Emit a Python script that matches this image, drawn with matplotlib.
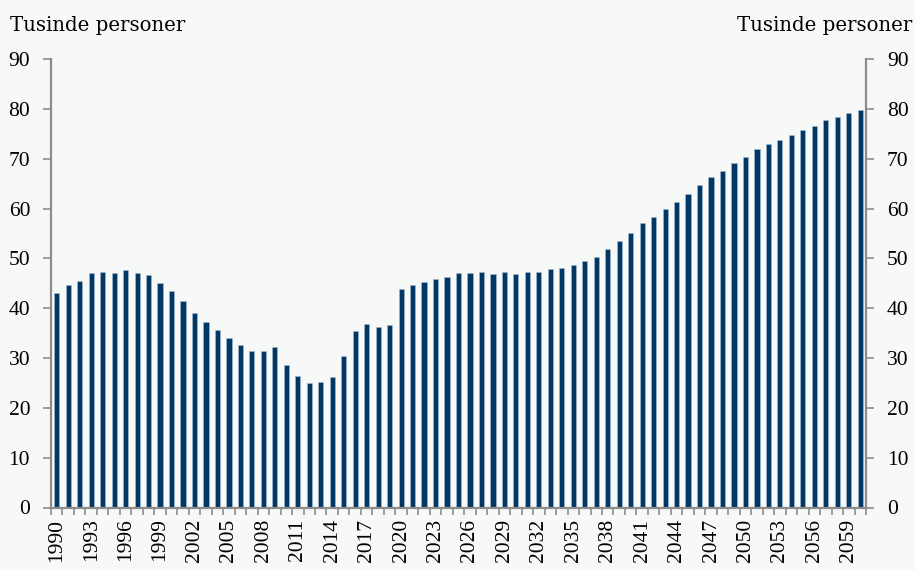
import matplotlib
matplotlib.use('Agg')
import matplotlib.pyplot as plt
import numpy as np

years = list(range(1990, 2061))
values = [
    43.1, 44.7, 45.4, 47.0, 47.2, 47.0, 47.6, 47.0, 46.6, 45.1,
    43.4, 41.4, 39.1, 37.2, 35.7, 34.0, 32.7, 31.5, 31.4, 32.3,
    28.7, 26.3, 24.9, 25.1, 26.2, 30.4, 35.4, 36.8, 36.2, 36.6,
    43.9, 44.7, 45.2, 45.8, 46.2, 47.0, 47.1, 47.3, 46.9, 47.3,
    46.9, 47.2, 47.3, 47.9, 48.1, 48.6, 49.5, 50.3, 51.9, 53.5,
    55.2, 57.2, 58.4, 59.9, 61.4, 63.0, 64.7, 66.4, 67.6, 69.2,
    70.4, 71.9, 73.0, 73.8, 74.7, 75.8, 76.6, 77.7, 78.3, 79.1,
    79.9,
]
yticks = [0, 10, 20, 30, 40, 50, 60, 70, 80, 90]
ylabel = "Tusinde personer"

bg = '#f7f9f9'
bar_color = '#003764'
axis_color = '#8c8c8c'
plt.rcParams['font.family'] = ['Liberation Serif', 'DejaVu Serif']

fig = plt.figure(figsize=(9.15, 5.7), dpi=100, facecolor=bg)
ax = fig.add_axes([51 / 915, 62.5 / 570, 815 / 915, 448.3 / 570])
ax.set_facecolor(bg)

x = np.arange(len(years))
ax.bar(x, values, width=0.45, color=bar_color, edgecolor='#a9bccd', linewidth=0.4)

ax.set_xlim(-0.5, len(years) - 0.5)
ax.set_ylim(0, 90)
ax.set_yticks(yticks)

# year labels every third bar, tick marks between bars
ax.set_xticks(x[::3])
ax.set_xticklabels([str(y) for y in years[::3]], rotation=90, fontsize=15.5)
ax.set_xticks(np.arange(-0.5, len(years)), minor=True)
ax.tick_params(axis='x', which='major', length=0, pad=8)
ax.tick_params(axis='x', which='minor', length=5, width=1.2, color=axis_color, direction='out')

ax.spines['top'].set_visible(False)
for s in ['left', 'right', 'bottom']:
    ax.spines[s].set_color(axis_color)
    ax.spines[s].set_linewidth(1.6)

ax.tick_params(axis='y', which='major', length=6, width=1.2, color=axis_color,
               labelsize=15.5, pad=9, left=True, right=True,
               labelleft=True, labelright=True)

fig.text(10 / 915, 1 - 31 / 570, ylabel, fontsize=14.2, family='DejaVu Serif',
         ha='left', va='baseline')
fig.text(1 - 3 / 915, 1 - 31 / 570, ylabel, fontsize=14.2, family='DejaVu Serif',
         ha='right', va='baseline')

fig.savefig('out.png', dpi=100, facecolor=bg)
